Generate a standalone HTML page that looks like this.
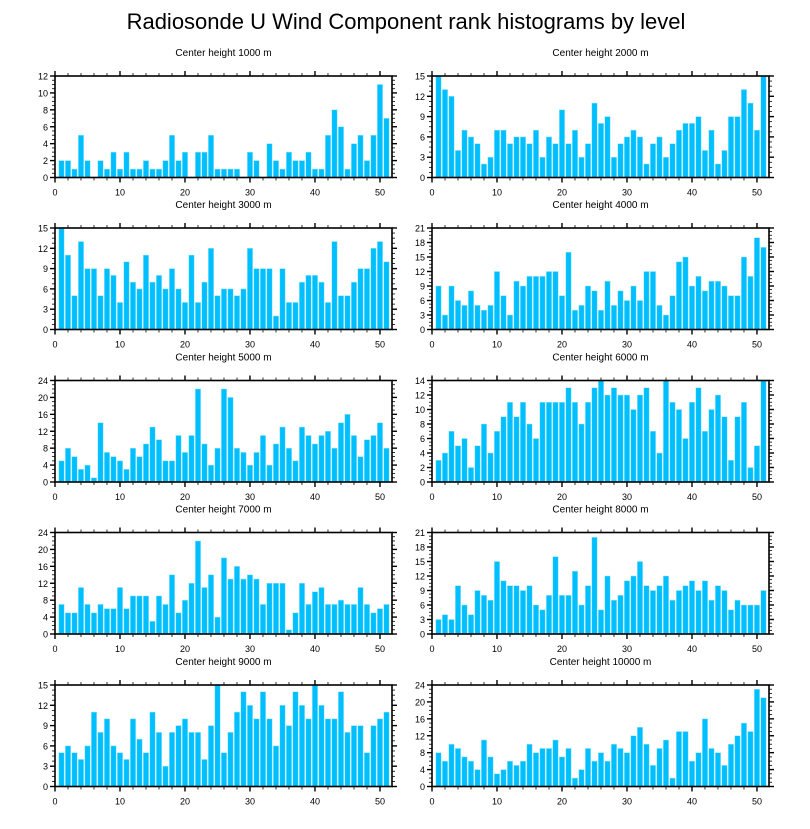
<!DOCTYPE html>
<html><head><meta charset="utf-8"><style>
body{margin:0;background:#fff;width:810px;height:824px;overflow:hidden}
svg{font-family:"Liberation Sans",sans-serif}
</style></head><body>
<svg id="chart" width="810" height="824" viewBox="0 0 810 824">
<text x="406" y="29" text-anchor="middle" font-size="22">Radiosonde U Wind Component rank histograms by level</text>
</svg>
<script>
const levels = ["1000","2000","3000","4000","5000","6000","7000","8000","9000","10000"];
const yMaxes = [12,15,15,21,24,14,24,21,15,24];
const yStepVals = [2,3,3,3,4,2,4,3,3,4];
const xTicks = [0,10,20,30,40,50];
const v1000 = [2,2,1,5,2,0,2,1,3,1,3,1,1,2,1,1,2,5,2,3,0,3,3,5,1,1,1,1,0,3,2,0,4,2,1,3,2,2,3,1,1,5,8,6,1,4,5,2,5,11,7];
const v2000 = [15,13,12,4,7,6,5,2,3,7,7,5,6,6,5,7,3,6,5,10,5,7,3,5,11,8,9,3,5,6,7,6,2,5,6,3,5,7,8,8,9,4,7,2,4,9,9,13,11,7,15];
const v3000 = [15,11,5,13,9,9,5,9,8,4,10,7,6,11,7,8,6,9,6,4,11,4,7,12,5,6,6,5,6,12,9,9,9,2,9,4,4,7,8,8,7,4,13,5,5,7,9,9,12,13,10];
const v4000 = [9,3,9,6,5,8,5,4,5,12,7,3,10,9,11,11,11,12,12,7,16,4,5,9,8,4,10,5,8,6,9,6,12,12,5,3,7,14,15,9,11,8,10,10,9,7,7,15,11,19,17];
const v5000 = [5,8,6,3,4,1,14,7,6,5,3,8,6,9,13,10,5,5,11,7,11,22,9,4,8,22,20,8,7,4,7,11,4,9,13,8,5,13,11,9,11,12,8,14,16,11,6,10,11,14,8];
const v6000 = [3,4,7,5,6,2,5,8,4,7,9,11,9,11,8,6,11,11,11,11,13,11,8,11,13,14,12,13,12,12,10,12,13,7,4,14,11,10,6,11,13,7,10,12,9,3,9,11,2,5,14];
const v7000 = [7,5,5,11,7,5,7,6,6,11,6,9,9,9,3,9,7,14,5,8,12,22,11,14,4,18,13,16,13,14,13,7,12,12,12,1,5,12,7,10,11,7,7,8,7,7,11,7,5,6,7];
const v8000 = [3,4,3,10,6,4,9,8,7,15,11,10,10,9,10,6,5,8,16,8,8,13,6,10,20,5,12,7,8,11,12,15,10,9,10,12,7,9,10,11,9,11,7,10,9,5,7,6,6,6,9];
const v9000 = [5,6,5,4,6,11,8,10,6,5,4,10,7,5,11,8,3,8,9,10,8,8,4,9,15,5,8,11,14,12,10,14,10,6,12,9,14,12,10,15,12,10,10,14,8,9,9,5,9,10,11];
const v10000 = [8,6,10,9,7,6,4,11,7,3,4,6,5,6,10,8,9,9,11,7,9,2,4,9,6,8,6,10,9,8,12,14,10,5,9,11,2,13,13,6,8,16,9,8,5,10,12,15,13,23,21];
const allSeries = [v1000,v2000,v3000,v4000,v5000,v6000,v7000,v8000,v9000,v10000];

const NS="http://www.w3.org/2000/svg";
const svg=document.getElementById('chart');
function mk(tag,attrs,parent){const e=document.createElementNS(NS,tag);for(const k in attrs)e.setAttribute(k,attrs[k]);parent.appendChild(e);return e;}
const X0=0, X1=51.85;
const lefts=[55,432], width=337;
const tops=[76,228,380.5,532.5,685], height=101.5;

for(let p=0;p<10;p++){
  const col=p%2,row=Math.floor(p/2);
  const L=lefts[col],T=tops[row],B=T+height,R=L+width;
  const ymax=yMaxes[p],ystep=yStepVals[p],vals=allSeries[p];
  const xs=v=>L+(v-X0)/(X1-X0)*width;
  const ys=v=>B-v/ymax*height;
  const g=mk('g',{},svg);
  
  
  const t=mk('text',{x:(L+R)/2,y:T-20,'text-anchor':'middle','font-size':'10'},g);
  
  
  t.textContent='Center height '+levels[p]+' m';
  vals.forEach((v,i)=>{
    const c=i+1;
    const r=mk('rect',{x:xs(c-0.41),y:ys(v),width:xs(c+0.41)-xs(c-0.41),height:B-ys(v),fill:'#00bfff',stroke:'#9fe6ff','stroke-width':'0.5'},g);
    
    
  });
  const frame=mk('rect',{x:L,y:T,width:width,height:height,fill:'none',stroke:'#000','stroke-width':'1.6'},g);
  
  
  for(let v=0;v<=50;v+=2){
    const x=xs(v),len=(v%10===0)?5:3;
    mk('line',{x1:x,y1:B,x2:x,y2:B+len,stroke:'#000','stroke-width':v%10===0?1.4:0.8},g);
    mk('line',{x1:x,y1:T,x2:x,y2:T-len,stroke:'#000','stroke-width':v%10===0?1.4:0.8},g);
  }
  xTicks.forEach(v=>{
    const tx=mk('text',{x:xs(v),y:B+18,'text-anchor':'middle','font-size':'9'},g);
    
    
    tx.textContent=v;
  });
  const minor=ystep/4;
  for(let k=0;k<=Math.round(ymax/minor);k++){
    const v=k*minor,y=ys(v),maj=(k%4===0),len=maj?5:3;
    mk('line',{x1:L,y1:y,x2:L-len,y2:y,stroke:'#000','stroke-width':maj?1.4:0.8},g);
    mk('line',{x1:R,y1:y,x2:R+len,y2:y,stroke:'#000','stroke-width':maj?1.4:0.8},g);
  }
  for(let v=0;v<=ymax;v+=ystep){
    const ty=mk('text',{x:L-7,y:ys(v)+3.5,'text-anchor':'end','font-size':'9'},g);
    
    
    ty.textContent=v;
  }
}
</script>
</body></html>
